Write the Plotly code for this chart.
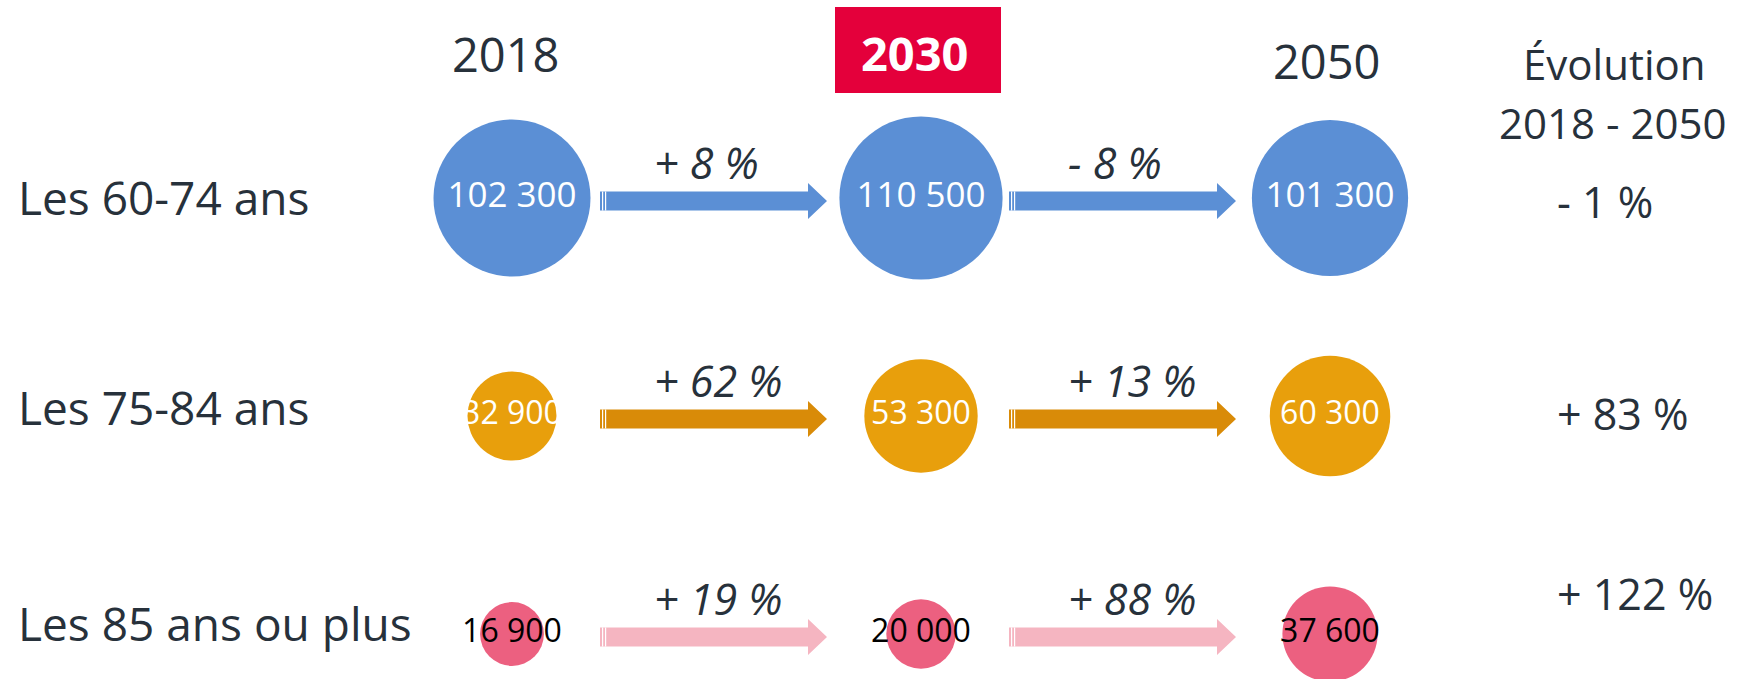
import numpy as np
import plotly.graph_objects as go

# ---------------- data ----------------
years = ["2018", "2030", "2050"]
groups = ["Les 60-74 ans", "Les 75-84 ans", "Les 85 ans ou plus"]
pop_2018 = [102300, 32900, 16900]
pop_2030 = [110500, 53300, 20000]
pop_2050 = [101300, 60300, 37600]
chg_2018_2030 = ["+ 8 %", "+ 62 %", "+ 19 %"]
chg_2030_2050 = ["- 8 %", "+ 13 %", "+ 88 %"]
evol_2018_2050 = ["- 1 %", "+ 83 %", "+ 122 %"]
evol_title = ["Évolution", "2018 - 2050"]

# ---------------- layout / style ----------------
W, H = 1737, 679
COL_X = [512, 921, 1330]
ROW_Y = [198, 416, 634]
LABEL_Y = [197, 407, 623]
EVOL_Y = [201, 413, 593]
EVOL_X = 1555
HEAD_Y = [54, 53, 61]
FONT = "Open Sans"
DARK = "#27313b"
CIRCLE_COLORS = ["#5b8fd5", "#e89f0c", "#ec6080"]
ARROW_COLORS = ["#5b8fd5", "#d98b08", "#f5b5c1"]
VALUE_TEXT_COLORS = ["white", "white", "black"]
VALUE_TEXT_SIZES = [35, 32, 32]
DIAM_PER_SQRT = 0.4909

pops = np.array([pop_2018, pop_2030, pop_2050]).T  # rows x cols
changes = [chg_2018_2030, chg_2030_2050]

def fmt(v):
    return f"{v:,}".replace(",", " ")

fig = go.Figure()

for i, g in enumerate(groups):
    vals = pops[i]
    fig.add_trace(go.Scatter(
        x=COL_X, y=[ROW_Y[i]] * len(COL_X),
        mode="markers+text",
        marker=dict(size=DIAM_PER_SQRT * np.sqrt(vals), sizemode="diameter",
                    color=CIRCLE_COLORS[i], line=dict(width=0), opacity=1),
        text=[fmt(v) for v in vals],
        textposition="middle center",
        textfont=dict(family=FONT, size=VALUE_TEXT_SIZES[i], color=VALUE_TEXT_COLORS[i]),
        hoverinfo="skip", showlegend=False, name=g,
    ))

shapes = []
annotations = []

# red highlight box for 2030
shapes.append(dict(type="rect", xref="x", yref="y", x0=835, x1=1001, y0=7, y1=93,
                   fillcolor="#e4003b", line=dict(width=0), layer="below"))

# column headers
for j, yr in enumerate(years):
    bold = (yr == "2030")
    annotations.append(dict(
        x=COL_X[j] - 6 if j < 2 else COL_X[j] - 3, y=HEAD_Y[j], xref="x", yref="y",
        text=f"<b>{yr}</b>" if bold else yr, showarrow=False,
        xanchor="center", yanchor="middle",
        font=dict(family=FONT, size=47, color="white" if bold else DARK)))

annotations.append(dict(x=1614, y=63, xref="x", yref="y", text=evol_title[0],
                        showarrow=False, xanchor="center", yanchor="middle",
                        font=dict(family=FONT, size=42, color=DARK)))
annotations.append(dict(x=1612, y=122, xref="x", yref="y", text=evol_title[1],
                        showarrow=False, xanchor="center", yanchor="middle",
                        font=dict(family=FONT, size=42, color=DARK)))

# row labels + total evolution
for i, g in enumerate(groups):
    annotations.append(dict(x=16, y=LABEL_Y[i], xref="x", yref="y", text=g,
                            showarrow=False, xanchor="left", yanchor="middle",
                            font=dict(family=FONT, size=46, color=DARK)))
    annotations.append(dict(x=EVOL_X, y=EVOL_Y[i], xref="x", yref="y",
                            text=evol_2018_2050[i], showarrow=False,
                            xanchor="left", yanchor="middle",
                            font=dict(family=FONT, size=43, color=DARK)))

# arrows + change labels
SH, HH, HL = 9.5, 18, 19
for i in range(len(groups)):
    yc = ROW_Y[i] + 3
    for j in range(len(COL_X) - 1):
        xs = COL_X[j] + 88
        xe = COL_X[j + 1] - 94
        xh = xe - HL
        path = (f"M {xs},{yc - SH} L {xh},{yc - SH} L {xh},{yc - HH} L {xe},{yc} "
                f"L {xh},{yc + HH} L {xh},{yc + SH} L {xs},{yc + SH} Z")
        shapes.append(dict(type="path", path=path, xref="x", yref="y",
                           fillcolor=ARROW_COLORS[i], line=dict(width=0)))
        for dx in (2.6, 5.6):
            shapes.append(dict(type="line", xref="x", yref="y",
                               x0=xs + dx, x1=xs + dx, y0=yc - SH, y1=yc + SH,
                               line=dict(color="white", width=1.2)))
        annotations.append(dict(x=xs + (52 if j == 0 else 57), y=ROW_Y[i] - 36,
                                xref="x", yref="y", text=changes[j][i],
                                showarrow=False, xanchor="left", yanchor="middle",
                                font=dict(family=FONT, size=43, color=DARK,
                                          style="italic")))

fig.update_layout(
    width=W, height=H,
    margin=dict(l=0, r=0, t=0, b=0),
    paper_bgcolor="white", plot_bgcolor="white",
    xaxis=dict(range=[0, W], visible=False, fixedrange=True),
    yaxis=dict(range=[H, 0], visible=False, fixedrange=True),
    shapes=shapes, annotations=annotations,
    showlegend=False,
)

fig.write_html(
    "out.html",
    config={"displayModeBar": False},
    post_script="document.body.style.margin='0';document.body.style.overflow='hidden';",
)
